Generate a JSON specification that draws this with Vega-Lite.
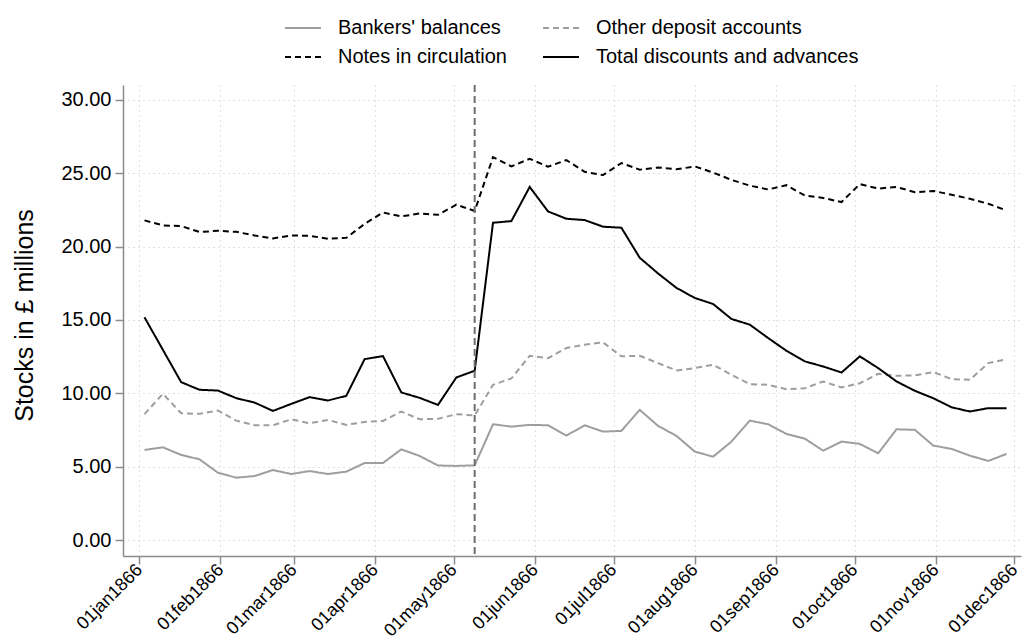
{
  "$schema": "https://vega.github.io/schema/vega-lite/v6.json",
  "width": 898,
  "height": 471,
  "autosize": {"type": "none"},
  "padding": {"left": 123, "top": 85, "right": 3, "bottom": 88},
  "background": "white",
  "config": {"font": "Liberation Sans", "view": {"stroke": null}},
  "datasets": {
    "event": [{"d": "1866-05-09"}],
    "bank": [
      {"d":"1866-01-03","s":"Bankers' balances","v":6.14},{"d":"1866-01-10","s":"Bankers' balances","v":6.32},{"d":"1866-01-17","s":"Bankers' balances","v":5.80},{"d":"1866-01-24","s":"Bankers' balances","v":5.50},
      {"d":"1866-01-31","s":"Bankers' balances","v":4.59},{"d":"1866-02-07","s":"Bankers' balances","v":4.25},{"d":"1866-02-14","s":"Bankers' balances","v":4.36},{"d":"1866-02-21","s":"Bankers' balances","v":4.77},
      {"d":"1866-02-28","s":"Bankers' balances","v":4.50},{"d":"1866-03-07","s":"Bankers' balances","v":4.70},{"d":"1866-03-14","s":"Bankers' balances","v":4.50},{"d":"1866-03-21","s":"Bankers' balances","v":4.66},
      {"d":"1866-03-28","s":"Bankers' balances","v":5.25},{"d":"1866-04-04","s":"Bankers' balances","v":5.25},{"d":"1866-04-11","s":"Bankers' balances","v":6.18},{"d":"1866-04-18","s":"Bankers' balances","v":5.73},
      {"d":"1866-04-25","s":"Bankers' balances","v":5.08},{"d":"1866-05-02","s":"Bankers' balances","v":5.05},{"d":"1866-05-09","s":"Bankers' balances","v":5.09},{"d":"1866-05-16","s":"Bankers' balances","v":7.89},
      {"d":"1866-05-23","s":"Bankers' balances","v":7.73},{"d":"1866-05-30","s":"Bankers' balances","v":7.85},{"d":"1866-06-06","s":"Bankers' balances","v":7.82},{"d":"1866-06-13","s":"Bankers' balances","v":7.12},
      {"d":"1866-06-20","s":"Bankers' balances","v":7.82},{"d":"1866-06-27","s":"Bankers' balances","v":7.39},{"d":"1866-07-04","s":"Bankers' balances","v":7.44},{"d":"1866-07-11","s":"Bankers' balances","v":8.87},
      {"d":"1866-07-18","s":"Bankers' balances","v":7.78},{"d":"1866-07-25","s":"Bankers' balances","v":7.10},{"d":"1866-08-01","s":"Bankers' balances","v":6.03},{"d":"1866-08-08","s":"Bankers' balances","v":5.68},
      {"d":"1866-08-15","s":"Bankers' balances","v":6.71},{"d":"1866-08-22","s":"Bankers' balances","v":8.14},{"d":"1866-08-29","s":"Bankers' balances","v":7.89},{"d":"1866-09-05","s":"Bankers' balances","v":7.23},
      {"d":"1866-09-12","s":"Bankers' balances","v":6.91},{"d":"1866-09-19","s":"Bankers' balances","v":6.09},{"d":"1866-09-26","s":"Bankers' balances","v":6.71},{"d":"1866-10-03","s":"Bankers' balances","v":6.55},
      {"d":"1866-10-10","s":"Bankers' balances","v":5.91},{"d":"1866-10-17","s":"Bankers' balances","v":7.55},{"d":"1866-10-24","s":"Bankers' balances","v":7.51},{"d":"1866-10-31","s":"Bankers' balances","v":6.44},
      {"d":"1866-11-07","s":"Bankers' balances","v":6.21},{"d":"1866-11-14","s":"Bankers' balances","v":5.75},{"d":"1866-11-21","s":"Bankers' balances","v":5.39},{"d":"1866-11-28","s":"Bankers' balances","v":5.87},

      {"d":"1866-01-03","s":"Other deposit accounts","v":8.58},{"d":"1866-01-10","s":"Other deposit accounts","v":9.97},{"d":"1866-01-17","s":"Other deposit accounts","v":8.64},{"d":"1866-01-24","s":"Other deposit accounts","v":8.60},
      {"d":"1866-01-31","s":"Other deposit accounts","v":8.83},{"d":"1866-02-07","s":"Other deposit accounts","v":8.14},{"d":"1866-02-14","s":"Other deposit accounts","v":7.82},{"d":"1866-02-21","s":"Other deposit accounts","v":7.82},
      {"d":"1866-02-28","s":"Other deposit accounts","v":8.23},{"d":"1866-03-07","s":"Other deposit accounts","v":7.96},{"d":"1866-03-14","s":"Other deposit accounts","v":8.19},{"d":"1866-03-21","s":"Other deposit accounts","v":7.85},
      {"d":"1866-03-28","s":"Other deposit accounts","v":8.05},{"d":"1866-04-04","s":"Other deposit accounts","v":8.12},{"d":"1866-04-11","s":"Other deposit accounts","v":8.76},{"d":"1866-04-18","s":"Other deposit accounts","v":8.23},
      {"d":"1866-04-25","s":"Other deposit accounts","v":8.26},{"d":"1866-05-02","s":"Other deposit accounts","v":8.58},{"d":"1866-05-09","s":"Other deposit accounts","v":8.49},{"d":"1866-05-16","s":"Other deposit accounts","v":10.58},
      {"d":"1866-05-23","s":"Other deposit accounts","v":11.01},{"d":"1866-05-30","s":"Other deposit accounts","v":12.56},{"d":"1866-06-06","s":"Other deposit accounts","v":12.40},{"d":"1866-06-13","s":"Other deposit accounts","v":13.09},
      {"d":"1866-06-20","s":"Other deposit accounts","v":13.31},{"d":"1866-06-27","s":"Other deposit accounts","v":13.47},{"d":"1866-07-04","s":"Other deposit accounts","v":12.52},{"d":"1866-07-11","s":"Other deposit accounts","v":12.56},
      {"d":"1866-07-18","s":"Other deposit accounts","v":12.06},{"d":"1866-07-25","s":"Other deposit accounts","v":11.56},{"d":"1866-08-01","s":"Other deposit accounts","v":11.72},{"d":"1866-08-08","s":"Other deposit accounts","v":11.95},
      {"d":"1866-08-15","s":"Other deposit accounts","v":11.26},{"d":"1866-08-22","s":"Other deposit accounts","v":10.63},{"d":"1866-08-29","s":"Other deposit accounts","v":10.58},{"d":"1866-09-05","s":"Other deposit accounts","v":10.28},
      {"d":"1866-09-12","s":"Other deposit accounts","v":10.35},{"d":"1866-09-19","s":"Other deposit accounts","v":10.81},{"d":"1866-09-26","s":"Other deposit accounts","v":10.40},{"d":"1866-10-03","s":"Other deposit accounts","v":10.69},
      {"d":"1866-10-10","s":"Other deposit accounts","v":11.33},{"d":"1866-10-17","s":"Other deposit accounts","v":11.20},{"d":"1866-10-24","s":"Other deposit accounts","v":11.22},{"d":"1866-10-31","s":"Other deposit accounts","v":11.45},
      {"d":"1866-11-07","s":"Other deposit accounts","v":10.97},{"d":"1866-11-14","s":"Other deposit accounts","v":10.92},{"d":"1866-11-21","s":"Other deposit accounts","v":12.06},{"d":"1866-11-28","s":"Other deposit accounts","v":12.33},

      {"d":"1866-01-03","s":"Notes in circulation","v":21.79},{"d":"1866-01-10","s":"Notes in circulation","v":21.45},{"d":"1866-01-17","s":"Notes in circulation","v":21.40},{"d":"1866-01-24","s":"Notes in circulation","v":21.00},
      {"d":"1866-01-31","s":"Notes in circulation","v":21.08},{"d":"1866-02-07","s":"Notes in circulation","v":21.01},{"d":"1866-02-14","s":"Notes in circulation","v":20.76},{"d":"1866-02-21","s":"Notes in circulation","v":20.56},
      {"d":"1866-02-28","s":"Notes in circulation","v":20.76},{"d":"1866-03-07","s":"Notes in circulation","v":20.74},{"d":"1866-03-14","s":"Notes in circulation","v":20.54},{"d":"1866-03-21","s":"Notes in circulation","v":20.60},
      {"d":"1866-03-28","s":"Notes in circulation","v":21.55},{"d":"1866-04-04","s":"Notes in circulation","v":22.33},{"d":"1866-04-11","s":"Notes in circulation","v":22.06},{"d":"1866-04-18","s":"Notes in circulation","v":22.26},
      {"d":"1866-04-25","s":"Notes in circulation","v":22.17},{"d":"1866-05-02","s":"Notes in circulation","v":22.86},{"d":"1866-05-09","s":"Notes in circulation","v":22.43},{"d":"1866-05-16","s":"Notes in circulation","v":26.10},
      {"d":"1866-05-23","s":"Notes in circulation","v":25.47},{"d":"1866-05-30","s":"Notes in circulation","v":25.99},{"d":"1866-06-06","s":"Notes in circulation","v":25.45},{"d":"1866-06-13","s":"Notes in circulation","v":25.90},
      {"d":"1866-06-20","s":"Notes in circulation","v":25.10},{"d":"1866-06-27","s":"Notes in circulation","v":24.88},{"d":"1866-07-04","s":"Notes in circulation","v":25.70},{"d":"1866-07-11","s":"Notes in circulation","v":25.25},
      {"d":"1866-07-18","s":"Notes in circulation","v":25.40},{"d":"1866-07-25","s":"Notes in circulation","v":25.27},{"d":"1866-08-01","s":"Notes in circulation","v":25.47},{"d":"1866-08-08","s":"Notes in circulation","v":25.05},
      {"d":"1866-08-15","s":"Notes in circulation","v":24.55},{"d":"1866-08-22","s":"Notes in circulation","v":24.16},{"d":"1866-08-29","s":"Notes in circulation","v":23.90},{"d":"1866-09-05","s":"Notes in circulation","v":24.19},
      {"d":"1866-09-12","s":"Notes in circulation","v":23.48},{"d":"1866-09-19","s":"Notes in circulation","v":23.32},{"d":"1866-09-26","s":"Notes in circulation","v":23.04},{"d":"1866-10-03","s":"Notes in circulation","v":24.26},
      {"d":"1866-10-10","s":"Notes in circulation","v":23.96},{"d":"1866-10-17","s":"Notes in circulation","v":24.07},{"d":"1866-10-24","s":"Notes in circulation","v":23.71},{"d":"1866-10-31","s":"Notes in circulation","v":23.80},
      {"d":"1866-11-07","s":"Notes in circulation","v":23.54},{"d":"1866-11-14","s":"Notes in circulation","v":23.26},{"d":"1866-11-21","s":"Notes in circulation","v":22.92},{"d":"1866-11-28","s":"Notes in circulation","v":22.47},

      {"d":"1866-01-03","s":"Total discounts and advances","v":15.18},{"d":"1866-01-10","s":"Total discounts and advances","v":12.97},{"d":"1866-01-17","s":"Total discounts and advances","v":10.76},{"d":"1866-01-24","s":"Total discounts and advances","v":10.24},
      {"d":"1866-01-31","s":"Total discounts and advances","v":10.19},{"d":"1866-02-07","s":"Total discounts and advances","v":9.67},{"d":"1866-02-14","s":"Total discounts and advances","v":9.37},{"d":"1866-02-21","s":"Total discounts and advances","v":8.80},
      {"d":"1866-02-28","s":"Total discounts and advances","v":9.28},{"d":"1866-03-07","s":"Total discounts and advances","v":9.74},{"d":"1866-03-14","s":"Total discounts and advances","v":9.51},{"d":"1866-03-21","s":"Total discounts and advances","v":9.83},
      {"d":"1866-03-28","s":"Total discounts and advances","v":12.33},{"d":"1866-04-04","s":"Total discounts and advances","v":12.54},{"d":"1866-04-11","s":"Total discounts and advances","v":10.06},{"d":"1866-04-18","s":"Total discounts and advances","v":9.69},
      {"d":"1866-04-25","s":"Total discounts and advances","v":9.21},{"d":"1866-05-02","s":"Total discounts and advances","v":11.08},{"d":"1866-05-09","s":"Total discounts and advances","v":11.54},{"d":"1866-05-16","s":"Total discounts and advances","v":21.63},
      {"d":"1866-05-23","s":"Total discounts and advances","v":21.74},{"d":"1866-05-30","s":"Total discounts and advances","v":24.07},{"d":"1866-06-06","s":"Total discounts and advances","v":22.40},{"d":"1866-06-13","s":"Total discounts and advances","v":21.90},
      {"d":"1866-06-20","s":"Total discounts and advances","v":21.81},{"d":"1866-06-27","s":"Total discounts and advances","v":21.36},{"d":"1866-07-04","s":"Total discounts and advances","v":21.29},{"d":"1866-07-11","s":"Total discounts and advances","v":19.24},
      {"d":"1866-07-18","s":"Total discounts and advances","v":18.17},{"d":"1866-07-25","s":"Total discounts and advances","v":17.19},{"d":"1866-08-01","s":"Total discounts and advances","v":16.50},{"d":"1866-08-08","s":"Total discounts and advances","v":16.09},
      {"d":"1866-08-15","s":"Total discounts and advances","v":15.07},{"d":"1866-08-22","s":"Total discounts and advances","v":14.68},{"d":"1866-08-29","s":"Total discounts and advances","v":13.77},{"d":"1866-09-05","s":"Total discounts and advances","v":12.90},
      {"d":"1866-09-12","s":"Total discounts and advances","v":12.18},{"d":"1866-09-19","s":"Total discounts and advances","v":11.83},{"d":"1866-09-26","s":"Total discounts and advances","v":11.42},{"d":"1866-10-03","s":"Total discounts and advances","v":12.52},
      {"d":"1866-10-10","s":"Total discounts and advances","v":11.72},{"d":"1866-10-17","s":"Total discounts and advances","v":10.81},{"d":"1866-10-24","s":"Total discounts and advances","v":10.17},{"d":"1866-10-31","s":"Total discounts and advances","v":9.67},
      {"d":"1866-11-07","s":"Total discounts and advances","v":9.05},{"d":"1866-11-14","s":"Total discounts and advances","v":8.76},{"d":"1866-11-21","s":"Total discounts and advances","v":8.99},{"d":"1866-11-28","s":"Total discounts and advances","v":8.99}
    ]
  },
  "layer": [
    {
      "data": {"name": "bank"},
      "mark": {"type": "line", "strokeWidth": 2},
      "encoding": {
        "x": {
          "field": "d", "type": "temporal",
          "scale": {"type": "utc", "domain": [{"year": 1865, "month": 12, "date": 25, "hours": 19, "utc": true}, {"year": 1866, "month": 12, "date": 3, "hours": 12, "utc": true}]},
          "axis": {
            "values": [
              {"year": 1866, "month": 1, "date": 1, "utc": true}, {"year": 1866, "month": 2, "date": 1, "utc": true}, {"year": 1866, "month": 3, "date": 1, "utc": true},
              {"year": 1866, "month": 4, "date": 1, "utc": true}, {"year": 1866, "month": 5, "date": 1, "utc": true}, {"year": 1866, "month": 6, "date": 1, "utc": true},
              {"year": 1866, "month": 7, "date": 1, "utc": true}, {"year": 1866, "month": 8, "date": 1, "utc": true}, {"year": 1866, "month": 9, "date": 1, "utc": true},
              {"year": 1866, "month": 10, "date": 1, "utc": true}, {"year": 1866, "month": 11, "date": 1, "utc": true}, {"year": 1866, "month": 12, "date": 1, "utc": true}
            ],
            "labelExpr": "lower(utcFormat(datum.value, '%d%b%Y'))",
            "title": null,
            "labelAngle": -45, "labelAlign": "right", "labelBaseline": "middle",
            "labelFontSize": 18, "labelColor": "#000000", "labelPadding": 3,
            "labelOverlap": false, "labelBound": false, "labelFlush": false,
            "tickSize": 8, "tickColor": "#8c8c8c", "tickWidth": 1.5,
            "domainColor": "#8c8c8c", "domainWidth": 1.5,
            "grid": true, "gridColor": "#c4c4c4", "gridDash": [1, 4], "gridWidth": 1
          }
        },
        "y": {
          "field": "v", "type": "quantitative",
          "scale": {"domain": [-1.09, 31.02], "nice": false, "zero": false},
          "axis": {
            "values": [0, 5, 10, 15, 20, 25, 30],
            "format": ".2f",
            "title": "Stocks in £ millions",
            "titleFontSize": 25, "titleFontWeight": "normal", "titleColor": "#000000",
            "titleAngle": -90, "titleX": -91, "titleY": 230, "titleAlign": "center", "titleBaseline": "alphabetic",
            "labelFontSize": 20, "labelColor": "#000000", "labelPadding": 4,
            "tickSize": 8, "tickColor": "#8c8c8c", "tickWidth": 1.5,
            "domainColor": "#8c8c8c", "domainWidth": 1.5,
            "grid": true, "gridColor": "#c4c4c4", "gridDash": [1, 4], "gridWidth": 1
          }
        },
        "color": {
          "field": "s", "type": "nominal",
          "scale": {
            "domain": ["Bankers' balances", "Notes in circulation", "Other deposit accounts", "Total discounts and advances"],
            "range": ["#9e9e9e", "#000000", "#9e9e9e", "#000000"]
          },
          "legend": {
            "title": null, "orient": "none", "legendX": 161, "legendY": -76,
            "columns": 2, "direction": "vertical", "symbolType": "stroke", "symbolSize": 1296, "symbolStrokeWidth": 2,
            "labelFontSize": 20, "labelColor": "#000000", "labelOffset": 16, "labelLimit": 400,
            "columnPadding": 32, "rowPadding": 0
          }
        },
        "strokeDash": {
          "field": "s", "type": "nominal",
          "scale": {
            "domain": ["Bankers' balances", "Notes in circulation", "Other deposit accounts", "Total discounts and advances"],
            "range": [[1, 0], [6, 4], [6, 4], [1, 0]]
          },
          "legend": {
            "title": null, "orient": "none", "legendX": 161, "legendY": -76,
            "columns": 2, "direction": "vertical", "symbolType": "stroke", "symbolSize": 1296, "symbolStrokeWidth": 2,
            "labelFontSize": 20, "labelColor": "#000000", "labelOffset": 16, "labelLimit": 400,
            "columnPadding": 32, "rowPadding": 0
          }
        }
      }
    },
    {
      "data": {"name": "event"},
      "mark": {"type": "rule", "color": "#6e6e6e", "strokeWidth": 2, "strokeDash": [7, 4]},
      "encoding": {
        "x": {"field": "d", "type": "temporal", "scale": {"type": "utc"}}
      }
    }
  ]
}
